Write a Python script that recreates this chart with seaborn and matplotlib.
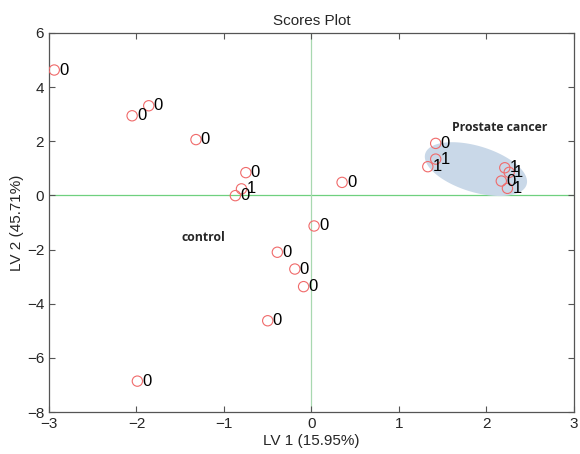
import numpy as np
import pandas as pd
import matplotlib
matplotlib.use("Agg")
import matplotlib.pyplot as plt
import seaborn as sns

# scores
lv1 = [-2.94, -1.86, -2.05, -1.32, -0.75, -0.80, -0.87, 0.35, 0.03, -0.39,
       -0.19, -0.09, -0.50, -1.99, 1.42, 1.42, 1.33, 2.21, 2.26, 2.17, 2.24]
lv2 = [4.63, 3.31, 2.94, 2.06, 0.84, 0.24, -0.01, 0.48, -1.13, -2.10,
       -2.72, -3.37, -4.63, -6.86, 1.92, 1.34, 1.06, 1.02, 0.85, 0.53, 0.26]
labels = ['0', '0', '0', '0', '0', '1', '0', '0', '0', '0',
          '0', '0', '0', '0', '0', '1', '1', '1', '1', '0', '1']

x_ticks = [-3, -2, -1, 0, 1, 2, 3]
y_ticks = [-8, -6, -4, -2, 0, 2, 4, 6]

df = pd.DataFrame({'lv1': lv1, 'lv2': lv2, 'label': labels})

sns.set_style("ticks")
plt.rcParams['font.family'] = ['Liberation Sans', 'DejaVu Sans']

fig = plt.figure(figsize=(5.8, 4.54), dpi=100)
ax = fig.add_axes([0.0845, 0.0925, 0.905, 0.835])

ax.set_xlim(-3, 3)
ax.set_ylim(-8, 6)

# shaded ellipse around the cancer group (drawn in pixel proportions)
px_x, px_y = 87.5, 27.07
t = np.linspace(0, 2 * np.pi, 200)
a, b, th = 53, 23, np.deg2rad(-17)
ex = 1.88 + (a * np.cos(t) * np.cos(th) - b * np.sin(t) * np.sin(th)) / px_x
ey = 0.97 + (a * np.cos(t) * np.sin(th) + b * np.sin(t) * np.cos(th)) / px_y
ax.fill(ex, ey, color='#c9d8e8', zorder=1, lw=0)

ax.axhline(0, color='#6fd07f', lw=0.9, zorder=0)
ax.axvline(0, color='#a8d8b0', lw=0.9, zorder=0)

sns.scatterplot(data=df, x='lv1', y='lv2', ax=ax, marker='o', s=55,
                facecolor='none', edgecolor='#f06a6a', linewidth=0.8, zorder=3)

for _, r in df.iterrows():
    ax.annotate(r['label'], (r['lv1'], r['lv2']), xytext=(3.5, 0),
                textcoords='offset points', ha='left', va='center',
                fontsize=12, color='black', zorder=4)

ax.text(1.61, 2.49, 'Prostate cancer', fontsize=8.8, fontweight='bold',
        ha='left', va='center', family=['Open Sans', 'DejaVu Sans'])
ax.text(-1.49, -1.54, 'control', fontsize=8.8, fontweight='bold',
        ha='left', va='center', family=['Open Sans', 'DejaVu Sans'])

ax.set_xticks(x_ticks)
ax.set_yticks(y_ticks)
ax.tick_params(direction='in', top=True, right=True, labelsize=11,
               length=4, color='#555555')
for s in ax.spines.values():
    s.set_color('#555555')
    s.set_linewidth(0.9)

ax.set_xlabel('LV 1 (15.95%)', fontsize=11, labelpad=2)
ax.set_ylabel('LV 2 (45.71%)', fontsize=11, labelpad=2)
ax.set_title('Scores Plot', fontsize=11, pad=6)

fig.savefig('out.png', dpi=100)
